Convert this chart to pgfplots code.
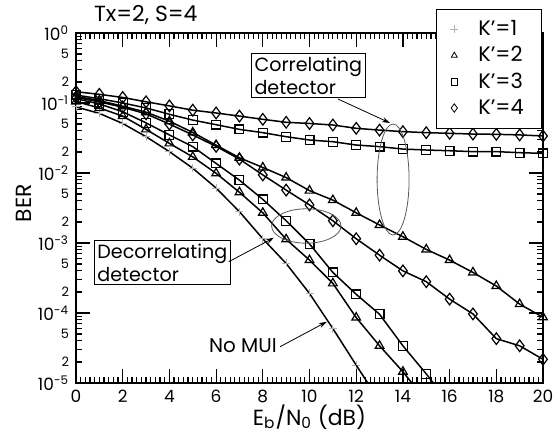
\documentclass[border=0pt]{standalone}
\usepackage{pgfplots}
\pgfplotsset{compat=1.18}
\usetikzlibrary{arrows.meta}
\usepackage{fontspec}
\setmainfont{Poppins}

\begin{document}
\begin{tikzpicture}
\begin{axis}[
  scale only axis, width=233.5bp, height=175bp,
  ymode=log, xmin=0, xmax=20, ymin=1e-5, ymax=1,
  clip mode=individual,
  xtick={0,2,...,20}, minor x tick num=9,
  ytick={1e-5,1e-4,1e-3,1e-2,1e-1,1},
  yticklabels={10\textsuperscript{−5},10\textsuperscript{−4},10\textsuperscript{−3},10\textsuperscript{−2},10\textsuperscript{−1},10\textsuperscript{0}},
  minor ytick={2e-5,3e-5,4e-5,5e-5,6e-5,7e-5,8e-5,9e-5,
               2e-4,3e-4,4e-4,5e-4,6e-4,7e-4,8e-4,9e-4,
               2e-3,3e-3,4e-3,5e-3,6e-3,7e-3,8e-3,9e-3,
               2e-2,3e-2,4e-2,5e-2,6e-2,7e-2,8e-2,9e-2,
               0.2,0.3,0.4,0.5,0.6,0.7,0.8,0.9},
  extra y ticks={2e-5,5e-5,2e-4,5e-4,2e-3,5e-3,2e-2,5e-2,0.2,0.5},
  extra y tick labels={2,5,2,5,2,5,2,5,2,5},
  extra y tick style={major tick length=3.2bp,
    yticklabel style={font=\fontsize{6.5}{7}\selectfont}},
  major tick length=7bp, minor tick length=3.2bp,
  axis line style={line width=1bp},
  tick style={line width=0.6bp, black},
  /pgf/number format/assume math mode=true,
  ticklabel style={font=\fontsize{8.5}{10}\selectfont},
  xlabel={E\textsubscript{b}/N\textsubscript{0} (dB)},
  ylabel={BER},
  label style={font=\fontsize{11}{13}\selectfont},
  xlabel style={anchor=base, at={(axis description cs:0.5,-0.12)}},
  ylabel style={anchor=center, at={(axis description cs:-0.111,0.514)}},
  legend style={at={(0.998,1.069)}, anchor=north east, draw=black, fill=white,
    font=\fontsize{10.5}{12.5}\selectfont, inner xsep=7bp, inner ysep=3.5bp,
    row sep=0bp, column sep=8bp},
  legend cell align=left,
]
% legend images only
\addlegendimage{only marks, mark=+, mark size=2bp, gray!60, line width=0.4pt}
\addlegendimage{only marks, mark=triangle, mark size=1.7bp, black, line width=0.4pt}
\addlegendimage{only marks, mark=square, mark size=1.6bp, black, line width=0.4pt}
\addlegendimage{only marks, mark=diamond, mark size=2.1bp, black, line width=0.4pt}
\legend{K'=1, K'=2, K'=3, K'=4}

% no MUI (K'=1)
\addplot[black, line width=0.75bp, mark=+, mark size=2bp, mark options={gray!60, line width=0.4pt}, forget plot]
  coordinates {(0,0.088)(1,0.071)(2,0.051)(3,0.033)(4,0.0202)(5,0.0117)(6,0.0061)(7,0.0028)
               (8,0.00115)(9,5.1e-4)(10,1.9e-4)(11,6.0e-5)(12,1.8e-5)};
\addplot[black, line width=0.75bp, forget plot] coordinates {(12,1.8e-5)(13,5.5e-6)};

% decorrelating detector
\addplot[black, line width=0.75bp, mark=triangle, mark size=2.5bp, mark options={fill=white, line width=0.6bp}, forget plot]
  coordinates {(0,0.105)(1,0.085)(2,0.065)(3,0.042)(4,0.0265)(5,0.017)(6,0.0099)(7,0.0053)
               (8,0.0027)(9,0.00113)(10,5.7e-4)(11,2.65e-4)(12,8.6e-5)(13,3.4e-5)(14,1.45e-5)};
\addplot[black, line width=0.75bp, forget plot] coordinates {(14,1.45e-5)(15,5.5e-6)};
\addplot[black, line width=0.75bp, mark=square, mark size=2.2bp, mark options={fill=white, line width=0.6bp}, forget plot]
  coordinates {(0,0.115)(1,0.097)(2,0.075)(3,0.052)(4,0.035)(5,0.0238)(6,0.0137)(7,0.0079)
               (8,0.0042)(9,0.00208)(10,9.7e-4)(11,3.8e-4)(12,1.85e-4)(13,9.6e-5)(14,3.4e-5)(15,1.35e-5)};
\addplot[black, line width=0.75bp, forget plot] coordinates {(15,1.35e-5)(16,5e-6)};
\addplot[black, line width=0.75bp, mark=diamond, mark size=2.9bp, mark options={fill=white, line width=0.6bp}, forget plot]
  coordinates {(0,0.12)(1,0.104)(2,0.087)(3,0.07)(4,0.05)(5,0.035)(6,0.024)(7,0.0158)
               (8,0.0094)(9,0.0057)(10,0.0035)(11,0.00208)(12,0.00115)(13,6.7e-4)(14,4.0e-4)
               (15,2.8e-4)(16,1.58e-4)(17,9.7e-5)(18,4.3e-5)(19,3.4e-5)(20,2.18e-5)};

% correlating detector
\addplot[black, line width=0.75bp, mark=triangle, mark size=2.5bp, mark options={fill=white, line width=0.6bp}, forget plot]
  coordinates {(0,0.125)(1,0.108)(2,0.09)(3,0.074)(4,0.055)(5,0.038)(6,0.025)(7,0.0165)
               (8,0.012)(9,0.0086)(10,0.0056)(11,0.0041)(12,0.0027)(13,0.00181)(14,0.00123)
               (15,8.1e-4)(16,5.7e-4)(17,3.8e-4)(18,2.43e-4)(19,1.34e-4)(20,8.7e-5)};
\addplot[black, line width=0.75bp, mark=square, mark size=2.2bp, mark options={fill=white, line width=0.6bp}, forget plot]
  coordinates {(0,0.13)(1,0.115)(2,0.1)(3,0.085)(4,0.069)(5,0.057)(6,0.049)(7,0.042)
               (8,0.0377)(9,0.033)(10,0.0296)(11,0.028)(12,0.0251)(13,0.0238)(14,0.022)
               (15,0.0213)(16,0.0208)(17,0.0202)(18,0.0202)(19,0.0195)(20,0.0191)};
\addplot[black, line width=0.75bp, mark=diamond, mark size=2.9bp, mark options={fill=white, line width=0.6bp}, forget plot]
  coordinates {(0,0.145)(1,0.133)(2,0.12)(3,0.104)(4,0.091)(5,0.079)(6,0.072)(7,0.065)
               (8,0.0585)(9,0.053)(10,0.051)(11,0.0485)(12,0.0435)(13,0.041)(14,0.039)
               (15,0.0377)(16,0.0369)(17,0.036)(18,0.0357)(19,0.035)(20,0.0338)};

% annotations
\draw[gray!70!black, line width=0.4pt] (axis cs:13.58,8.07e-3) ellipse [x radius=8bp, y radius=27.75bp];
\draw[gray!70!black, line width=0.4pt] (axis cs:9.863,1.75e-3) ellipse [x radius=17.35bp, y radius=8.6bp];
\node[draw, fill=white, align=left, inner sep=1.5bp, font=\fontsize{9.6}{11.5}\selectfont]
  at (axis cs:9.95,0.247) {Correlating\\detector};
\draw[line width=0.4pt, -{Stealth[length=4bp, width=2.5bp]}] (axis cs:11.22,0.114) -- (axis cs:13.45,0.0518);
\node[draw, fill=white, align=left, inner sep=1.5bp, font=\fontsize{9.6}{11.5}\selectfont]
  at (axis cs:3.696,5.26e-4) {Decorrelating\\detector};
\draw[line width=0.4pt, -{Stealth[length=4bp, width=2.5bp]}] (axis cs:6.54,5.4e-4) -- (axis cs:8.48,1.19e-3);
\node[font=\fontsize{10}{12}\selectfont] at (axis cs:7.15,3.38e-5) {No MUI};
\draw[line width=0.4pt, -{Stealth[length=4bp, width=2.5bp]}] (axis cs:8.74,3.3e-5) -- (axis cs:10.74,7.5e-5);
\end{axis}
\node[anchor=base west, font=\fontsize{11}{13}\selectfont] at (5.5bp,180.5bp) {Tx=2, S=4};
\pgfresetboundingbox
\path (-38bp,-26bp) rectangle (240.5bp,191.5bp);
\end{tikzpicture}
\end{document}
